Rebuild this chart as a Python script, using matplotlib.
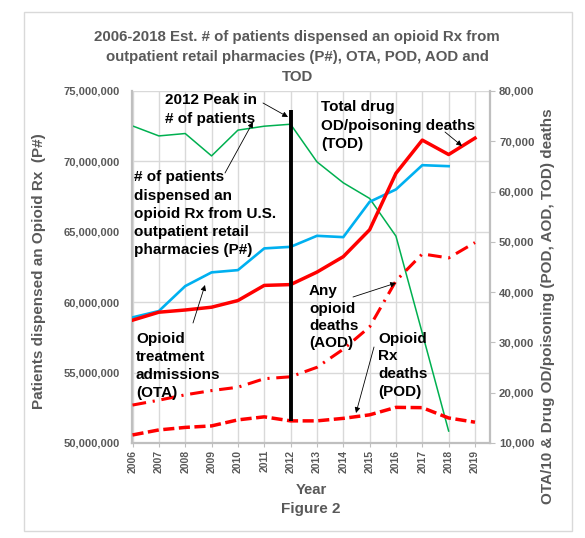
import matplotlib
matplotlib.use("Agg")
import matplotlib.pyplot as plt
from matplotlib.patches import Rectangle
from matplotlib.ticker import FuncFormatter

plt.rcParams["font.family"] = ["Liberation Sans", "DejaVu Sans"]
plt.rcParams["font.weight"] = "bold"

# -------------------------------
# Data
# -------------------------------
years = [2006, 2007, 2008, 2009, 2010, 2011, 2012, 2013, 2014, 2015, 2016, 2017, 2018, 2019]

# patients dispensed an opioid Rx (P#), 2006-2018, left axis
patients = [72520000, 71810000, 71980000, 70390000, 72220000, 72500000, 72640000,
            69970000, 68480000, 67370000, 64690000, 57800000, 50850000]
# opioid treatment admissions / 10 (OTA), 2006-2018, right axis
ota_10 = [34980, 36240, 41200, 43930, 44380, 48700, 49010, 51200, 50940, 57960, 60420, 65250, 65050]
# total drug OD/poisoning deaths (TOD)
tod = [34425, 36010, 36450, 37004, 38329, 41340, 41502, 43982, 47055, 52404, 63632, 70237, 67367, 70630]
# any opioid deaths (AOD)
aod = [17545, 18516, 19582, 20422, 21089, 22784, 23166, 25052, 28647, 33091, 42249, 47600, 46802, 49860]
# opioid Rx deaths (POD)
pod = [11600, 12600, 13100, 13400, 14600, 15200, 14400, 14400, 14900, 15600, 17087, 17029, 14975, 14139]
# vertical marker at the 2012 peak (right-axis values, bottom/top)
peak_year = 2012
peak_span = [14400, 76200]

GRAY = "#595959"
W, H = 585, 538


def fp(x, y):
    """reference pixel -> figure fraction"""
    return x / W, 1 - y / H


x = list(range(len(years)))

fig = plt.figure(figsize=(W / 100, H / 100), dpi=100)
ax = fig.add_axes([132 / W, 95 / H, 358 / W, 352 / H])
ax2 = ax.twinx()

# left axis series
ax.plot(x[:len(patients)], patients, color="#00b050", lw=1.1)

# right axis series
ax2.plot(x[:len(ota_10)], ota_10, color="#00b0f0", lw=1.9)
ax2.plot(x, tod, color="#ff0000", lw=2.5)
ax2.plot(x, aod, color="#ff0000", lw=2.2, linestyle=(0, (4.5, 2.2, 0.7, 2.2)))
ax2.plot(x, pod, color="#ff0000", lw=2.5, linestyle=(0, (3.2, 1.3)))
pi = years.index(peak_year)
ax2.plot([pi, pi], peak_span, color="black", lw=2.8, solid_capstyle="butt", clip_on=False)

# axes setup
ax.set_xlim(-0.02, 13.57)
ax.set_ylim(50000000, 75000000)
ax2.set_ylim(10000, 80000)
ax.set_yticks(range(50000000, 75000001, 5000000))
ax2.set_yticks(range(10000, 80001, 10000))
ax.set_xticks(x)
ax.set_xticklabels([str(y) for y in years])
ax.yaxis.set_major_formatter(FuncFormatter(lambda v, p: f"{v:,.0f}"))
ax2.yaxis.set_major_formatter(FuncFormatter(lambda v, p: f"{v:,.0f}"))

ax.grid(True, color="#d9d9d9", lw=1)
ax.set_axisbelow(True)

for s in ["top", "right"]:
    ax.spines[s].set_visible(False)
for s in ["top", "left", "bottom"]:
    ax2.spines[s].set_visible(False)
ax.spines["left"].set_color("#bfbfbf")
ax.spines["left"].set_linewidth(1.6)
ax.spines["bottom"].set_color("#bfbfbf")
ax.spines["bottom"].set_linewidth(1.6)
ax2.spines["right"].set_color("#bfbfbf")
ax2.spines["right"].set_linewidth(1.6)

ax.tick_params(axis="y", length=0, pad=9, labelsize=8, labelcolor=GRAY)
ax.tick_params(axis="x", length=3, color="#bfbfbf", pad=2, labelsize=7.5,
               labelcolor=GRAY, labelrotation=90)
ax2.tick_params(axis="y", length=3.5, color="#bfbfbf", pad=3, labelsize=8.2, labelcolor=GRAY)

# outer chart border
fig.patches.append(Rectangle(fp(24, 531), 548 / W, 519 / H, transform=fig.transFigure,
                             fill=False, edgecolor="#d9d9d9", lw=1))

# title and axis titles
title_lines = ["2006-2018 Est. # of patients dispensed an opioid Rx from",
               "outpatient retail pharmacies (P#), OTA, POD, AOD and",
               "TOD"]
for i, s in enumerate(title_lines):
    fig.text(*fp(297, 35 + i * 20.2), s, ha="center", va="center_baseline",
             fontsize=10.8, color=GRAY)

fig.text(*fp(39, 271), "Patients dispensed an Opioid Rx  (P#)", rotation=90,
         ha="center", va="center", fontsize=11, color=GRAY)
fig.text(*fp(548, 306), "OTA/10 & Drug OD/poisoning (POD, AOD, TOD) deaths", rotation=90,
         ha="center", va="center", fontsize=11, color=GRAY)
fig.text(*fp(311, 489), "Year", ha="center", va="center_baseline", fontsize=10.7, color=GRAY)
fig.text(*fp(311, 507), "Figure 2", ha="center", va="center_baseline", fontsize=11, color=GRAY)


# callout labels
def block(lines, px, py0, step=18.1):
    for i, s in enumerate(lines):
        fig.text(*fp(px, py0 + i * step), s, ha="left", va="center_baseline",
                 fontsize=11, color="black")


block(["2012 Peak in", "# of patients"], 165, 99)
block(["# of patients", "dispensed an", "opioid Rx from U.S.", "outpatient retail",
       "pharmacies (P#)"], 134, 176)
block(["Total drug", "OD/poisoning deaths", "(TOD)"], 321, 106)
block(["Opioid", "treatment", "admissions", "(OTA)"], 136, 337)
block(["Any", "opioid", "deaths", "(AOD)"], 309, 290, 17.2)
block(["Opioid", "Rx", "deaths", "(POD)"], 378, 337, 17.7)

arrows = [((263, 103), (288, 117)),
          ((225, 173), (253, 122)),
          ((193, 323), (205, 285)),
          ((445, 132), (462, 146)),
          ((353, 297), (396, 283)),
          ((374, 347), (356, 413))]
for tail, tip in arrows:
    ax2.annotate("", xy=fp(*tip), xycoords="figure fraction",
                 xytext=fp(*tail), textcoords="figure fraction",
                 arrowprops=dict(arrowstyle="-|>", color="black", lw=0.6,
                                 mutation_scale=8, shrinkA=0, shrinkB=0),
                 annotation_clip=False)

fig.savefig("out.png", dpi=100)
